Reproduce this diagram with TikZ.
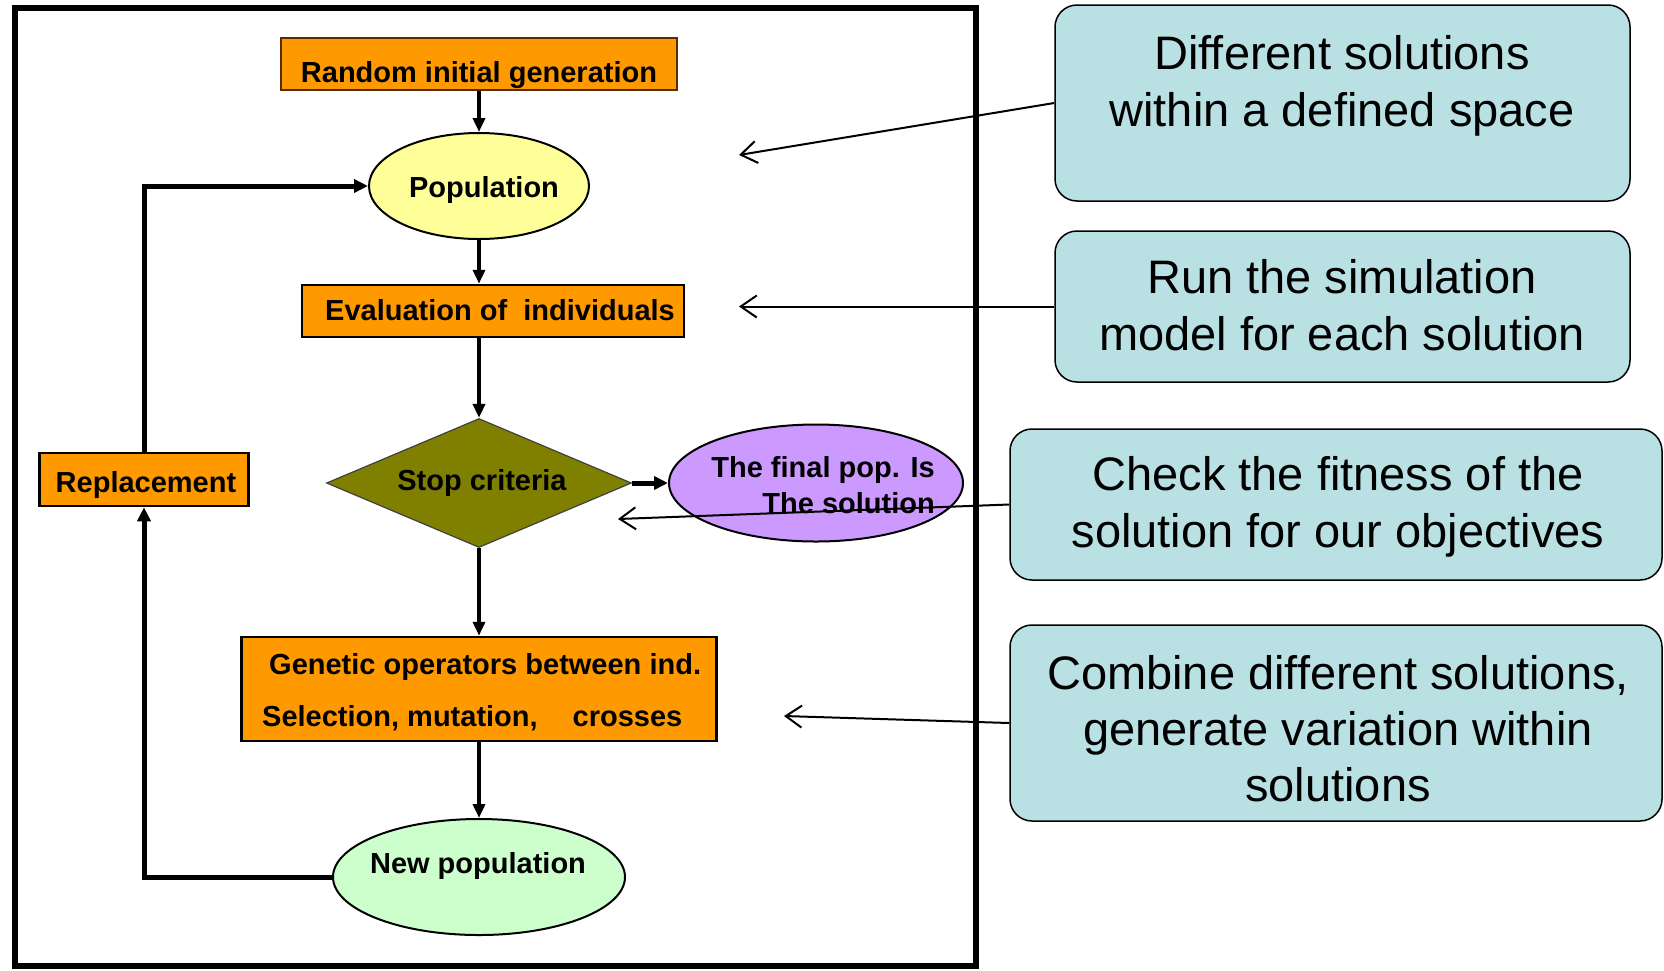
\documentclass[tikz,border=0pt]{standalone}
\usepackage{fontspec}
\setmainfont{Liberation Sans}
\usetikzlibrary{shapes.geometric,arrows.meta}
\definecolor{orng}{RGB}{255,153,0}
\definecolor{ylw}{RGB}{255,255,153}
\definecolor{olv}{RGB}{128,128,0}
\definecolor{lav}{RGB}{204,153,255}
\definecolor{lgrn}{RGB}{204,255,204}
\definecolor{cboxc}{RGB}{185,224,227}
\definecolor{brn}{RGB}{90,45,0}
\begin{document}
\begin{tikzpicture}[x=1pt,y=-1pt,
  flowarr/.style={line width=4pt,-{Triangle[length=14pt,width=12pt]}},
  looparr/.style={line width=5pt,-{Triangle[length=14pt,width=13pt]}},
  hintarr/.style={line width=2pt,-{Straight Barb[length=16pt,width=22pt]}},
  obox/.style={rectangle,fill=orng,draw=black,line width=2.5pt,inner sep=0pt},
  ellbox/.style={ellipse,draw=black,line width=2pt,inner sep=0pt},
  notebox/.style={rectangle,rounded corners=22pt,fill=cboxc,draw=black,line width=1.5pt,inner sep=0pt},
  btxt/.style={font=\fontsize{29}{34}\selectfont\bfseries,inner sep=0pt},
  ctxt/.style={font=\fontsize{47}{57}\selectfont,align=center,inner sep=0pt}
]
\useasboundingbox (0,0) rectangle (1664,970);
\draw[line width=6pt] (15,8) rectangle (976,966);

% flow shapes
\node[obox,draw=brn,line width=2pt,minimum width=396pt,minimum height=52pt] (rand) at (479,64) {};
\node[btxt,anchor=base] (randt) at (479,82) {Random initial generation};

\node[ellbox,fill=ylw,minimum width=220pt,minimum height=106pt] (pop) at (479,186) {};
\node[btxt,anchor=base] (popt) at (484,197) {Population};

\node[obox,minimum width=382pt,minimum height=52pt] (eval) at (493,311) {};
\node[btxt,anchor=base] (evalt) at (500,320) {Evaluation of\ \ individuals};

\node[diamond,fill=olv,draw=black!75,line width=1.2pt,minimum width=305pt,minimum height=129pt,inner sep=0pt] (stop) at (479,483) {};
\node[btxt,anchor=base] (stopt) at (482,490) {Stop criteria};

\node[ellbox,fill=lav,minimum width=294pt,minimum height=117pt] (fin) at (816,483) {};
\node[btxt,anchor=base east] (fint1) at (935,477) {The final pop. Is};
\node[btxt,anchor=base east] (fint2) at (935,513) {The solution};

\node[obox,minimum width=209pt,minimum height=53pt] (repl) at (144,479.5) {};
\node[btxt,anchor=base] (replt) at (146,492) {Replacement};

\node[obox,minimum width=475pt,minimum height=104pt] (gen) at (479,689) {};
\node[btxt,anchor=base west] (gent1) at (269,674) {Genetic operators between ind.};
\node[btxt,anchor=base west] (gent2) at (262,726) {Selection, mutation,\hspace{35pt}crosses};

\node[ellbox,fill=lgrn,minimum width=292pt,minimum height=116pt] (np) at (479,877) {};
\node[btxt,anchor=base] (npt) at (478,873) {New population};

% flow connectors
\draw[flowarr] (rand.south) -- (pop.north);
\draw[flowarr] (pop.south) -- (pop.south |- eval.north);
\draw[flowarr] (stop.north |- eval.south) -- (stop.north);
\draw[flowarr] (stop.south) -- (gen.north);
\draw[flowarr] (gen.south) -- (np.north);
\draw[looparr] (np.west) -| (repl.south);
\draw[looparr] (repl.north) |- (pop.west);
\draw[looparr] (stop.east) -- (fin.west);

% callouts
\node[notebox,minimum width=575pt,minimum height=196pt] (c1) at (1342.5,103) {};
\node[ctxt] (c1t) at (1342,85.5) {Different solutions\\within a defined space};
\node[notebox,minimum width=575pt,minimum height=151pt] (c2) at (1342.5,306.5) {};
\node[ctxt] (c2t) at (1342,305.5) {Run the simulation\\model for each solution};
\node[notebox,minimum width=652pt,minimum height=151pt] (c3) at (1336,504.5) {};
\node[ctxt] (c3t) at (1338,507) {Check the fitness of the\\solution for our objectives};
\node[notebox,minimum width=652pt,minimum height=196pt] (c4) at (1336,723) {};
\node[ctxt,font=\fontsize{47}{56}\selectfont] (c4t) at (1338,729) {Combine different solutions,\\generate variation within\\solutions};

\coordinate (a1) at (739,155);
\coordinate (a2) at (739,306.5);
\coordinate (a3) at (618,519);
\coordinate (a4) at (784,716);
\draw[hintarr] (c1.west) -- (a1);
\draw[hintarr] (c2.west) -- (a2);
\draw[hintarr] (c3.west) -- (a3);
\draw[hintarr] (c4.west) -- (a4);
\end{tikzpicture}
\end{document}
